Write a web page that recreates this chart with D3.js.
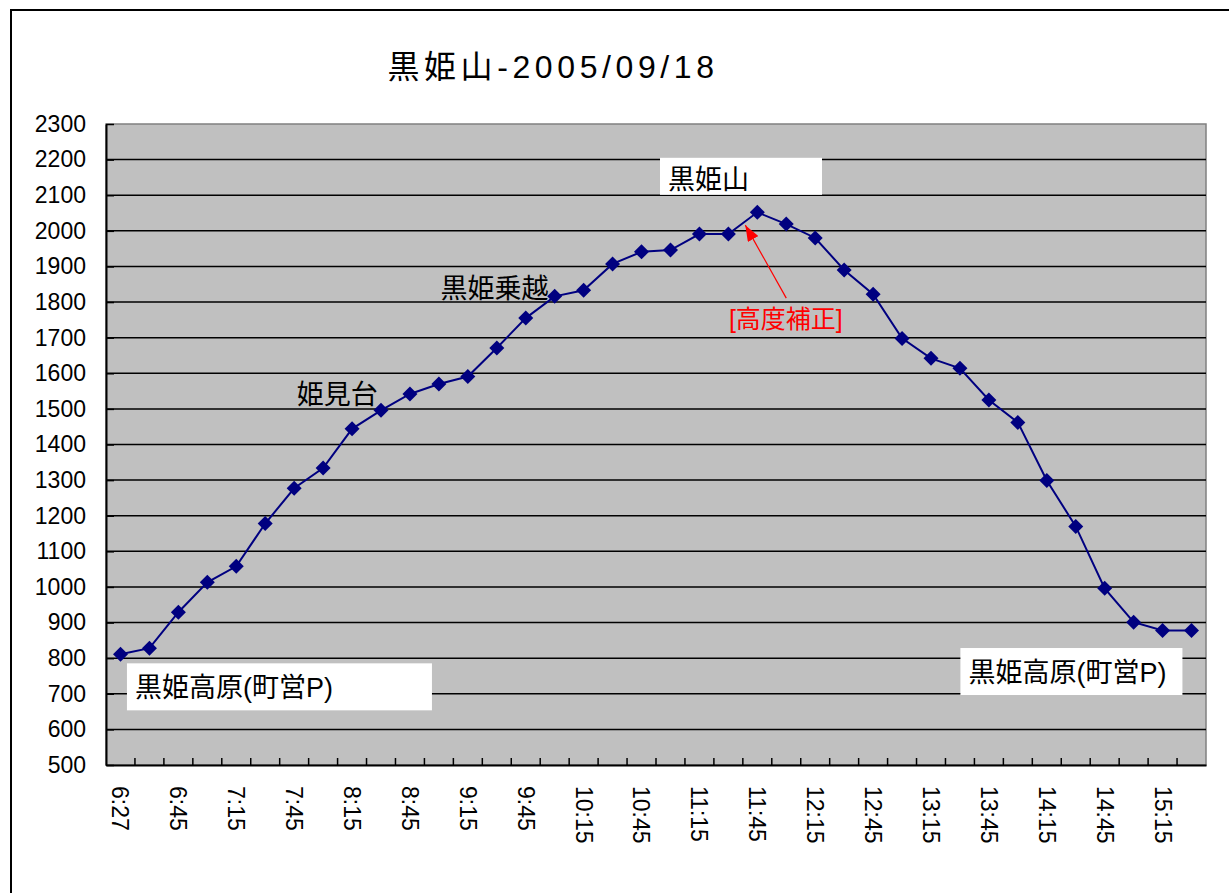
<!DOCTYPE html>
<html>
<head>
<meta charset="utf-8">
<script src="https://cdn.jsdelivr.net/npm/d3@7"></script>
<style>
  body { margin: 0; background: #fff; }
  svg { display: block; }
  text { font-family: "Liberation Sans", Arial, "Noto Sans CJK JP", sans-serif; }
</style>
</head>
<body>
<script>
const W = 1229, H = 893
const margin = {top: 124, left: 106, right: 1206, bottom: 765}

// time of each reading (15 min steps after the start)
const times = ['6:27', '6:30', '6:45', '7:00', '7:15', '7:30', '7:45', '8:00', '8:15', '8:30',
               '8:45', '9:00', '9:15', '9:30', '9:45', '10:00', '10:15', '10:30', '10:45', '11:00',
               '11:15', '11:30', '11:45', '12:00', '12:15', '12:30', '12:45', '13:00', '13:15', '13:30',
               '13:45', '14:00', '14:15', '14:30', '14:45', '15:00', '15:15', '15:30']
// altitude (m)
const altitude = [811, 828, 929, 1013, 1058, 1178, 1277, 1334, 1444, 1496,
                  1542, 1570, 1591, 1671, 1755, 1816, 1833, 1907, 1941, 1946,
                  1991, 1991, 2052, 2019, 1980, 1890, 1822, 1698, 1642, 1614,
                  1525, 1462, 1299, 1170, 996, 901, 878, 878]
const yTicks = d3.range(500, 2301, 100)
const xLabels = times.filter((t, i) => i % 2 === 0)

const title = '黒姫山-2005/09/18'
// place names, anchored at a category and an altitude
const noteText = ['黒姫高原(町営P)', '黒姫高原(町営P)', '黒姫山', '黒姫乗越', '姫見台']
const noteAt = ['6:30', '13:45', '11:00', '9:00', '7:45']
const noteAlt = [690, 733, 2118, 1811, 1514]
// offset from band start, white box width (0 = no box)
const noteDx = [0, -6, 12, 16, 17]
const noteBox = [305, 222, 162, 0, 0]

const x = d3.scaleBand().domain(times).range([margin.left, margin.right]).padding(0)
const y = d3.scaleLinear().domain([500, 2300]).range([margin.bottom, margin.top])
const cx = d => x(d) + x.bandwidth() / 2

const svg = d3.select('body').append('svg').attr('width', W).attr('height', H)

// outer frame
svg.append('rect').attr('x', 11).attr('y', 10).attr('width', W + 20).attr('height', H + 20)
   .attr('fill', '#fff').attr('stroke', '#000').attr('stroke-width', 2)

svg.append('text')
   .attr('x', 553).attr('y', 78)
   .attr('text-anchor', 'middle')
   .style('font-size', '32px').style('letter-spacing', '4.6px')
   .text(title)

// plot area
svg.append('rect')
   .attr('x', margin.left).attr('y', margin.top)
   .attr('width', margin.right - margin.left).attr('height', margin.bottom - margin.top)
   .attr('fill', '#c0c0c0').attr('stroke', '#808080').attr('stroke-width', 1.5)

svg.append('g').selectAll('line')
   .data(yTicks.slice(1, -1))
   .enter().append('line')
   .attr('x1', margin.left).attr('x2', margin.right)
   .attr('y1', d => y(d)).attr('y2', d => y(d))
   .attr('stroke', '#000').attr('stroke-width', 1.5)

let yAxis = d3.axisLeft(y).tickValues(yTicks).tickFormat(d3.format('d'))
              .tickSizeInner(-8).tickSizeOuter(0).tickPadding(20)
let gy = svg.append('g').attr('transform', `translate(${margin.left},0)`).call(yAxis)
gy.select('.domain').attr('stroke', '#000').attr('stroke-width', 2)
gy.selectAll('.tick line').attr('stroke', '#000').attr('stroke-width', 1.5)
gy.selectAll('.tick text').style('font-size', '23px').attr('fill', '#000')

let xAxis = d3.axisBottom(x).tickValues(xLabels).tickSize(0).tickPadding(0)
let gx = svg.append('g').attr('transform', `translate(0,${margin.bottom})`).call(xAxis)
gx.select('.domain').attr('stroke', '#000').attr('stroke-width', 2)
gx.selectAll('.tick text')
  .attr('transform', 'rotate(90)')
  .attr('x', 21).attr('y', 0).attr('dy', '0.35em')
  .style('text-anchor', 'start').style('font-size', '23px').attr('fill', '#000')

// category boundary ticks
svg.append('g').selectAll('line')
   .data(times.slice(1))
   .enter().append('line')
   .attr('x1', d => x(d)).attr('x2', d => x(d))
   .attr('y1', margin.bottom).attr('y2', margin.bottom - 7)
   .attr('stroke', '#000').attr('stroke-width', 1.5)

// line + markers
const line = d3.line().x((d, i) => cx(times[i])).y(d => y(d))
svg.append('path').datum(altitude)
   .attr('d', line).attr('fill', 'none').attr('stroke', '#000080').attr('stroke-width', 2)

svg.append('g').selectAll('path')
   .data(altitude)
   .enter().append('path')
   .attr('transform', (d, i) => `translate(${cx(times[i])},${y(d)})`)
   .attr('d', 'M0,-7.5L7.5,0L0,7.5L-7.5,0Z')
   .attr('fill', '#000080')

// place name labels
noteText.forEach((s, i) => {
  let g = svg.append('g')
     .attr('transform', `translate(${x(noteAt[i]) + noteDx[i]},${y(noteAlt[i])})`)
  if (noteBox[i]) {
    g.append('rect')
     .attr('x', -8).attr('y', -31)
     .attr('width', noteBox[i]).attr('height', 37 + (i < 2 ? 10 : 0))
     .attr('y', i < 2 ? -34 : -31)
     .attr('fill', '#fff')
  }
  g.append('text').style('font-size', '27px').attr('fill', '#000').text(s)
})

// correction note with arrow
svg.append('defs').append('marker')
   .attr('id', 'ah').attr('viewBox', '0 0 16 12').attr('refX', 16).attr('refY', 6)
   .attr('markerUnits', 'userSpaceOnUse')
   .attr('markerWidth', 16).attr('markerHeight', 12).attr('orient', 'auto')
   .append('path').attr('d', 'M0,0L16,6L0,12Z').attr('fill', '#ff0000')

svg.append('line')
   .attr('x1', cx('12:00')).attr('y1', y(1811))
   .attr('x2', cx('11:45') - 12).attr('y2', y(2016))
   .attr('stroke', '#ff0000').attr('stroke-width', 1.2).attr('marker-end', 'url(#ah)')

svg.append('text')
   .attr('x', x('11:30') + 15).attr('y', y(1727))
   .attr('fill', '#ff0000').style('font-size', '25px')
   .text('[高度補正]')
</script>
</body>
</html>
